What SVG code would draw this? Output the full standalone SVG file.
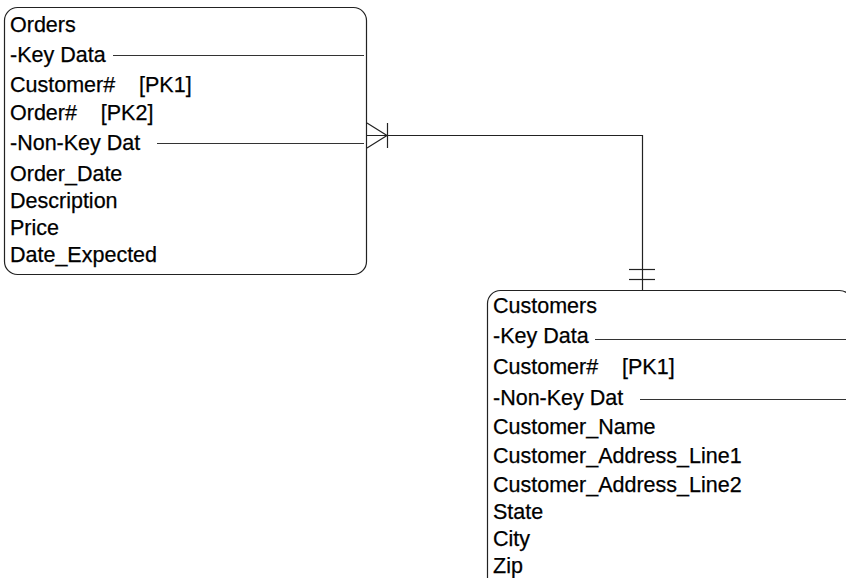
<svg xmlns="http://www.w3.org/2000/svg" width="846" height="578" viewBox="0 0 846 578">
<style>
.box{fill:none;stroke:#222;stroke-width:1.2}
.sep{stroke:#333;stroke-width:1}
.t{font-family:"Liberation Sans",Arial,sans-serif;font-size:21.5px;fill:#000;stroke:#000;stroke-width:0.25}
.conn{fill:none;stroke:#222;stroke-width:1.2}
</style>
<rect width="846" height="578" fill="#fff"/>
<g id="orders">
<rect class="box" x="4.5" y="7.5" width="362" height="267" rx="13"/>
<text class="t" x="10" y="32">Orders</text>
<text class="t" x="10" y="62">-Key Data</text>
<line class="sep" x1="113" y1="55.5" x2="364" y2="55.5"/>
<text class="t" x="10" y="92" xml:space="preserve">Customer#    [PK1]</text>
<text class="t" x="10" y="120" xml:space="preserve">Order#    [PK2]</text>
<text class="t" x="10" y="150">-Non-Key Dat</text>
<line class="sep" x1="157" y1="143.5" x2="364" y2="143.5"/>
<text class="t" x="10" y="181">Order_Date</text>
<text class="t" x="10" y="208">Description</text>
<text class="t" x="10" y="235">Price</text>
<text class="t" x="10" y="262">Date_Expected</text>
</g>
<g id="customers">
<rect class="box" x="487.5" y="290.5" width="365" height="300" rx="13"/>
<text class="t" x="493" y="313">Customers</text>
<text class="t" x="493" y="343">-Key Data</text>
<line class="sep" x1="595" y1="339.5" x2="846" y2="339.5"/>
<text class="t" x="493" y="374" xml:space="preserve">Customer#    [PK1]</text>
<text class="t" x="493" y="405">-Non-Key Dat</text>
<line class="sep" x1="640" y1="399.5" x2="846" y2="399.5"/>
<text class="t" x="493" y="434">Customer_Name</text>
<text class="t" x="493" y="463">Customer_Address_Line1</text>
<text class="t" x="493" y="492">Customer_Address_Line2</text>
<text class="t" x="493" y="519">State</text>
<text class="t" x="493" y="546">City</text>
<text class="t" x="493" y="573">Zip</text>
</g>
<g id="connectors">
<polyline class="conn" points="367,135.5 642.5,135.5 642.5,290"/>
<polyline class="conn" points="367,123 387,135.5 367,148"/>
<line class="conn" x1="387.5" y1="123" x2="387.5" y2="148"/>
<line class="conn" x1="629" y1="269.5" x2="655" y2="269.5"/>
<line class="conn" x1="629" y1="279.5" x2="655" y2="279.5"/>
</g>
</svg>
